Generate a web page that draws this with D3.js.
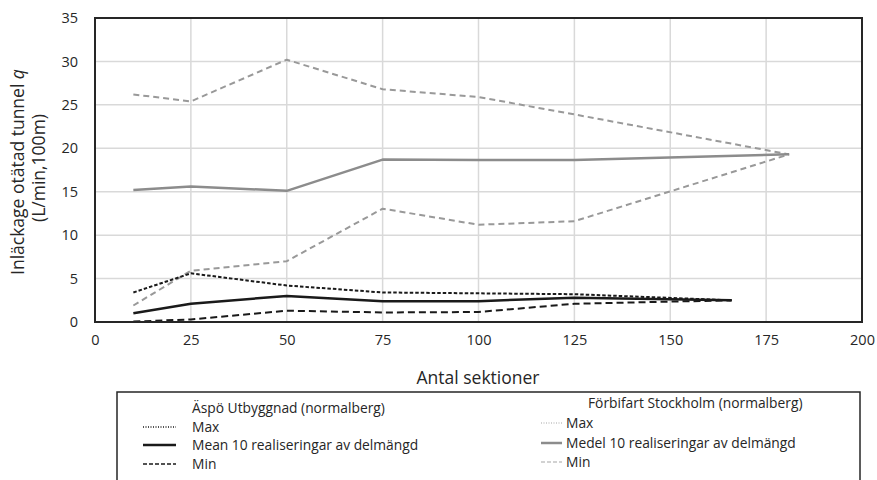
<!DOCTYPE html>
<html>
<head>
<meta charset="utf-8">
<script src="https://cdn.jsdelivr.net/npm/d3@7"></script>
<style>
  html, body { margin: 0; padding: 0; background: #fff; }
  svg { display: block; font-family: "Open Sans", "Liberation Sans", sans-serif; }
</style>
</head>
<body>
<svg id="chart" width="877" height="480"></svg>
<script>
// Sections (x values) for each model
const aspoSections = [10, 25, 50, 75, 100, 125, 166];
const forbSections = [10, 25, 50, 75, 100, 125, 181];

// Äspö Utbyggnad (normalberg)
const aspoMax  = [3.4, 5.6, 4.2, 3.4, 3.3, 3.2, 2.5];
const aspoMean = [1.0, 2.1, 3.0, 2.4, 2.4, 2.8, 2.5];
const aspoMin  = [0.05, 0.3, 1.3, 1.1, 1.15, 2.1, 2.5];

// Förbifart Stockholm (normalberg)
const forbMax  = [26.2, 25.4, 30.2, 26.8, 25.9, 23.9, 19.3];
const forbMean = [15.2, 15.6, 15.1, 18.7, 18.65, 18.65, 19.3];
const forbMin  = [1.9, 5.9, 7.0, 13.05, 11.2, 11.6, 19.3];

const xTicks = [0, 25, 50, 75, 100, 125, 150, 175, 200];
const yTicks = [0, 5, 10, 15, 20, 25, 30, 35];

const xTitle = "Antal sektioner";
const yTitle1 = "Inläckage otätad tunnel ";
const yTitle2 = "(L/min,100m)";

const svg = d3.select("#chart");
const plotLeft = 95, plotRight = 862, plotTop = 18, plotBottom = 322;

const x = d3.scaleLinear().domain([0, 200]).range([plotLeft, plotRight]);
const y = d3.scaleLinear().domain([0, 35]).range([plotBottom, plotTop]);

// Grid
const grid = svg.append("g");
grid.selectAll("line.v").data(xTicks.slice(1, -1)).join("line")
  .attr("class", "v")
  .attr("x1", d => x(d)).attr("x2", d => x(d))
  .attr("y1", plotTop).attr("y2", plotBottom)
  .attr("stroke", "#d9d9d9").attr("stroke-width", 1.5);
grid.selectAll("line.h").data(yTicks.slice(1, -1)).join("line")
  .attr("class", "h")
  .attr("x1", plotLeft).attr("x2", plotRight)
  .attr("y1", d => y(d)).attr("y2", d => y(d))
  .attr("stroke", "#d9d9d9").attr("stroke-width", 1.5);

// Axes (labels only; frame drawn separately)
const xAxis = svg.append("g").attr("transform", `translate(0,${plotBottom})`)
  .call(d3.axisBottom(x).tickValues(xTicks).tickSize(0).tickPadding(13));
const yAxis = svg.append("g").attr("transform", `translate(${plotLeft},0)`)
  .call(d3.axisLeft(y).tickValues(yTicks).tickSize(0).tickPadding(17));
[xAxis, yAxis].forEach(a => {
  a.select(".domain").remove();
  a.selectAll("text").attr("font-size", 14.5).attr("fill", "#262626")
    .attr("font-family", "'Open Sans', sans-serif");
});

// Series lines
const line = d3.line().x(d => x(d[0])).y(d => y(d[1]));
const series = [
  { xs: forbSections, ys: forbMax,  color: "#999999", width: 2,   dash: "6,4" },
  { xs: forbSections, ys: forbMin,  color: "#999999", width: 2,   dash: "6,4" },
  { xs: forbSections, ys: forbMean, color: "#8c8c8c", width: 2.5, dash: null },
  { xs: aspoSections, ys: aspoMax,  color: "#1a1a1a", width: 2,   dash: "3.5,2" },
  { xs: aspoSections, ys: aspoMin,  color: "#1a1a1a", width: 2,   dash: "7,4" },
  { xs: aspoSections, ys: aspoMean, color: "#1a1a1a", width: 2.5, dash: null }
];
svg.append("g").selectAll("path").data(series).join("path")
  .attr("d", s => line(s.xs.map((v, i) => [v, s.ys[i]])))
  .attr("fill", "none")
  .attr("stroke", s => s.color)
  .attr("stroke-width", s => s.width)
  .attr("stroke-dasharray", s => s.dash)
  .attr("stroke-linejoin", "round");

// Plot frame
svg.append("rect")
  .attr("x", plotLeft).attr("y", plotTop)
  .attr("width", plotRight - plotLeft).attr("height", plotBottom - plotTop)
  .attr("fill", "none").attr("stroke", "#262626").attr("stroke-width", 2);

// Axis titles
svg.append("text").attr("x", 478).attr("y", 384)
  .attr("text-anchor", "middle").attr("font-size", 17.5).attr("fill", "#262626")
  .text(xTitle);
const yt = svg.append("text").attr("transform", "translate(24,172) rotate(-90)")
  .attr("text-anchor", "middle").attr("font-size", 17.5).attr("fill", "#262626");
yt.append("tspan").text(yTitle1);
yt.append("tspan").attr("font-style", "italic").text("q");
svg.append("text").attr("transform", "translate(45,168) rotate(-90)")
  .attr("text-anchor", "middle").attr("font-size", 17.5).attr("fill", "#262626")
  .text(yTitle2);

// Legend
svg.append("rect").attr("x", 117).attr("y", 392).attr("width", 743).attr("height", 100)
  .attr("fill", "none").attr("stroke", "#262626").attr("stroke-width", 1.5);

const legendGroups = [
  { title: "Äspö Utbyggnad (normalberg)", tx: 192, ty: 408, sx0: 143, sx1: 176, ix: 192,
    rows: [
      { label: "Max", y: 427, color: "#1a1a1a", width: 1.5, dash: "1,1.5" },
      { label: "Mean 10 realiseringar av delmängd", y: 445, color: "#1a1a1a", width: 2.5, dash: null },
      { label: "Min", y: 464, color: "#1a1a1a", width: 1.5, dash: "4,2" }
    ] },
  { title: "Förbifart Stockholm (normalberg)", tx: 588, ty: 403, sx0: 541, sx1: 562, ix: 566,
    rows: [
      { label: "Max", y: 423, color: "#a6a6a6", width: 1.2, dash: "1,1.5" },
      { label: "Medel 10 realiseringar av delmängd", y: 443, color: "#8c8c8c", width: 2.5, dash: null },
      { label: "Min", y: 462, color: "#a6a6a6", width: 1.2, dash: "4,2" }
    ] }
];
legendGroups.forEach(g => {
  const lg = svg.append("g");
  lg.append("text").attr("x", g.tx).attr("y", g.ty).attr("dy", "0.35em")
    .attr("font-size", 13.8).attr("fill", "#262626").text(g.title);
  g.rows.forEach(r => {
    lg.append("line").attr("x1", g.sx0).attr("x2", g.sx1).attr("y1", r.y).attr("y2", r.y)
      .attr("stroke", r.color).attr("stroke-width", r.width).attr("stroke-dasharray", r.dash);
    lg.append("text").attr("x", g.ix).attr("y", r.y).attr("dy", "0.35em")
      .attr("font-size", 13.8).attr("fill", "#262626").text(r.label);
  });
});
</script>
</body>
</html>
